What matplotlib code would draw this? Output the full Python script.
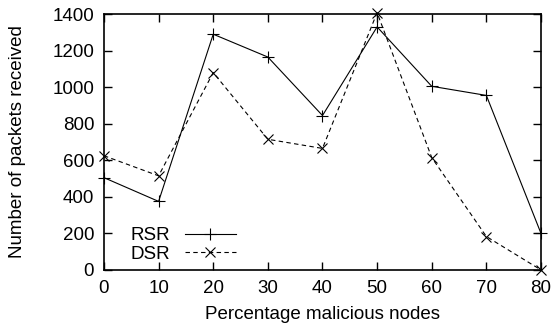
import matplotlib
matplotlib.use('Agg')
import matplotlib.pyplot as plt

# data
malicious_pct = [0, 10, 20, 30, 40, 50, 60, 70, 80]
rsr_packets = [505, 375, 1290, 1165, 845, 1330, 1005, 955, 200]
dsr_packets = [625, 515, 1080, 715, 665, 1408, 615, 183, 0]

plt.rcParams['font.family'] = ['Liberation Sans', 'DejaVu Sans']
plt.rcParams['font.size'] = 13.5

fig = plt.figure(figsize=(5.56, 3.28), dpi=100)
ax = fig.add_axes([0.187, 0.177, 0.786, 0.78])

ax.plot(malicious_pct, rsr_packets, color='black', linewidth=0.8, linestyle='-',
        marker='+', markersize=9, markeredgewidth=0.8, label='RSR', clip_on=False)
ax.plot(malicious_pct, dsr_packets, color='black', linewidth=0.8, linestyle=(0, (4, 3)),
        marker='x', markersize=7, markeredgewidth=0.8, label='DSR', clip_on=False)

ax.set_xlim(0, 80)
ax.set_ylim(0, 1400)
ax.set_xticks(malicious_pct)
ax.set_yticks(range(0, 1401, 200))
ax.tick_params(direction='in', top=True, right=True, length=6, width=1, pad=7)
for s in ax.spines.values():
    s.set_linewidth(1.2)

ax.set_xlabel('Percentage malicious nodes', labelpad=7)
ax.set_ylabel('Number of packets received', labelpad=19)

ax.legend(loc='lower left', bbox_to_anchor=(0.035, -0.015), frameon=False,
          markerfirst=False, handlelength=2.7, handletextpad=0.8,
          labelspacing=0.05, borderaxespad=0.2)

fig.savefig('out.png', dpi=100)
